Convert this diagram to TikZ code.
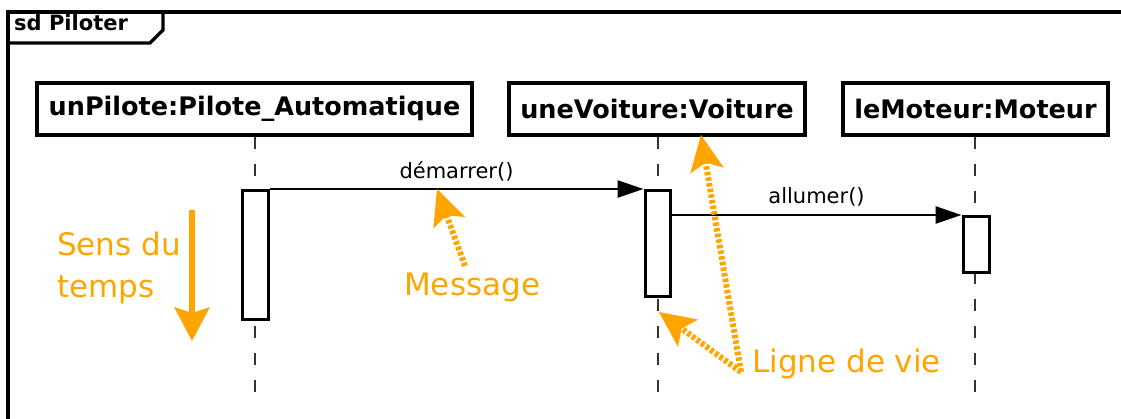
\documentclass[tikz,border=0pt]{standalone}
\usepackage{fontspec}
\setmainfont{DejaVu Sans}
\usetikzlibrary{arrows.meta}
\definecolor{anno}{HTML}{FFA500}
\tikzset{
  objbox/.style={draw=black, line width=3.2pt, fill=white, minimum height=52pt, inner sep=0pt, font=\fontsize{25.5}{30}\selectfont\bfseries},
  actbox/.style={draw=black, line width=3pt, fill=white},
  lifeline/.style={draw=black!80, line width=2pt, dash pattern=on 12pt off 15pt},
  msg/.style={draw=black, line width=2.6pt, -{Triangle[length=26pt,width=17pt]}},
  msglabel/.style={font=\fontsize{21}{24}\selectfont, inner sep=0pt, anchor=base},
  annotext/.style={text=anno, font=\fontsize{31}{42}\selectfont, inner sep=0pt, anchor=base west, align=left},
  annodot/.style={draw=anno, line width=6pt, dash pattern=on 3.5pt off 2.2pt, -{Stealth[length=36pt,width=34pt,inset=8pt,line width=0pt]}},
  annosolid/.style={draw=anno, line width=6.5pt, -{Stealth[length=34pt,width=36pt,inset=6pt,line width=0pt]}},
  frame/.style={draw=black, line width=3.2pt}
}
\begin{document}
\begin{tikzpicture}[x=1pt,y=-1pt]
\useasboundingbox (0,0) rectangle (1121,419);
% frame
\draw[frame] (8,425) -- (8,12) -- (1130,12);
\draw[frame, line join=miter] (8,43) -- (150,43) -- (163,30) -- (163,12);
\node[anchor=base west, inner sep=0pt, font=\fontsize{21}{24}\selectfont\bfseries] (title) at (14,31) {sd Piloter};
% objects
\node[objbox, minimum width=435pt] (pilote) at (254.5,109) {unPilote:Pilote\_Automatique};
\node[objbox, minimum width=296pt] (voiture) at (657,109) {uneVoiture:Voiture};
\node[objbox, minimum width=265pt] (moteur) at (975.5,109) {leMoteur:Moteur};
% lifelines
\coordinate (e1) at (255,405);
\coordinate (e2) at (658,405);
\coordinate (e3) at (975,405);
\draw[lifeline] (pilote.south -| e1) -- (e1);
\draw[lifeline] (voiture.south -| e2) -- (e2);
\draw[lifeline] (moteur.south -| e3) -- (e3);
% activations
\node[actbox, minimum width=26pt, minimum height=129pt, inner sep=0pt, anchor=north] (a1) at (255,189) {};
\node[actbox, minimum width=25pt, minimum height=106pt, inner sep=0pt, anchor=north] (a2) at (657.5,189) {};
\node[actbox, minimum width=26pt, minimum height=56pt, inner sep=0pt, anchor=north] (a3) at (976,215) {};
% messages
\draw[msg] (a1.north east) -- (a2.north west) node[msglabel, midway, yshift=10pt] (m1) {démarrer()};
\draw[msg] (a2.east |- a3.north) -- (a3.north west) node[msglabel, midway, yshift=11pt] (m2) {allumer()};
% annotations
\node[annotext] (sens) at (57,298) {Sens du\\temps};
\coordinate (t1) at (192,210);
\coordinate (t2) at (192,341);
\draw[annosolid] (t1) -- (t2);
\node[annotext] (message) at (404,296) {Message};
\coordinate (mtail) at (465,266);
\coordinate (mtip) at (437,189);
\draw[annodot] (mtail) -- (mtip);
\node[annotext] (ligne) at (752,372) {Ligne de vie};
\coordinate (ltail) at (741,372);
\coordinate (ltip1) at (701,135);
\coordinate (ltip2) at (659,312);
\draw[annodot] (ltail) -- (ltip1);
\draw[annodot] (ltail) -- (ltip2);
\end{tikzpicture}
\end{document}
